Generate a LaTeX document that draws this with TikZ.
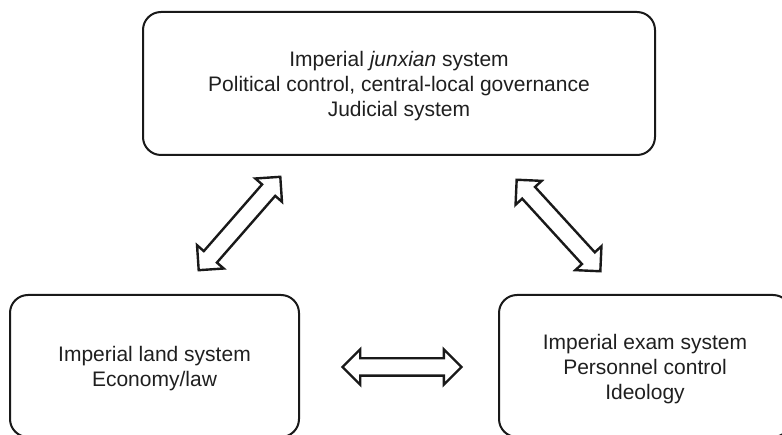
\documentclass[tikz,border=0pt]{standalone}
\usepackage{fontspec}
\setmainfont{Liberation Sans}
\usetikzlibrary{shapes.arrows}
\begin{document}
\begin{tikzpicture}[x=1pt,y=-1pt,
  box/.style={draw=black!90, line width=2pt, rounded corners=18pt, inner sep=0pt},
  txt/.style={align=center, text=black!88, font=\fontsize{21}{25}\selectfont, inner sep=0pt},
  barrow/.style={double arrow, draw=black!90, line width=2.4pt, fill=white,
    inner xsep=0pt, inner ysep=7.5pt, double arrow head extend=9pt,
    double arrow tip angle=90, sloped, anchor=center}]
\useasboundingbox (0,0) rectangle (782,435);
\clip (0,0) rectangle (782,435);
% boxes
\node[box, minimum width=512pt, minimum height=143pt] (top) at (399,83.5) {};
\node[box, minimum width=289pt, minimum height=142pt] (land) at (154.5,366) {};
\node[box, minimum width=292pt, minimum height=142pt] (exam) at (645,366) {};
% texts
\node[txt] (topt) at ([yshift=-3pt]top.center)
  {Imperial \textit{junxian} system\\Political control, central-local governance\\Judicial system};
\node[txt] (landt) at ([yshift=-3pt]land.center) {Imperial land system\\Economy/law};
\node[txt] (examt) at ([yshift=-3pt]exam.center) {Imperial exam system\\Personnel control\\Ideology};
% arrow end points
\coordinate (l1) at (198,271);
\coordinate (l2) at (281,176);
\coordinate (r1) at (516,179);
\coordinate (r2) at (601,272);
\coordinate (h1) at (342,367);
\coordinate (h2) at (462,367);
% block double arrows
\path (l1) -- node[barrow, minimum height=124pt] (arrL) {} (l2);
\path (r1) -- node[barrow, minimum height=124pt] (arrR) {} (r2);
\path (h1) -- node[barrow, minimum height=119pt] (arrH) {} (h2);
\end{tikzpicture}
\end{document}
